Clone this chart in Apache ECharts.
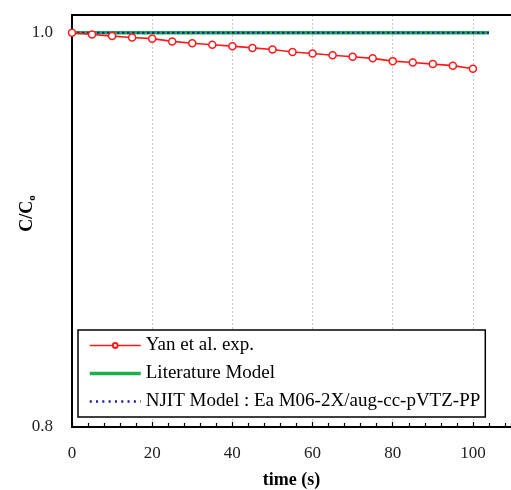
<!DOCTYPE html>
<html>
<head>
<meta charset="utf-8">
<script src="https://cdn.jsdelivr.net/npm/echarts@6/dist/echarts.min.js"></script>
<style>
  html, body { margin: 0; padding: 0; background: #fff; }
  #chart { width: 511px; height: 490px; }
</style>
</head>
<body>
<div id="chart"></div>
<script>
// 数据
const timeList = [0, 5, 10, 15, 20, 25, 30, 35, 40, 45, 50, 55, 60, 65, 70, 75, 80, 85, 90, 95, 100];
const yanList = [1.0, 0.9991, 0.9983, 0.9976, 0.9970, 0.9956, 0.9947, 0.9939, 0.9932, 0.9923, 0.9915,
    0.9902, 0.9895, 0.9886, 0.9878, 0.9870, 0.9856, 0.9849, 0.9841, 0.9833, 0.9817];
const modelTime = [0, 104];
const literatureList = [1.0, 1.0];
const njitList = [1.0, 1.0];
const seriesNames = ['Yan et al. exp.', 'Literature Model', 'NJIT Model : Ea M06-2X/aug-cc-pVTZ-PP'];
const xTicks = [0, 20, 40, 60, 80, 100];
const yTicks = [0.8, 1.0];

const dom = document.getElementById('chart');
const myChart = echarts.init(dom);
const serif = 'Liberation Serif';

function pairs(xs, ys) {
    return xs.map((x, i) => [x, ys[i]]);
}

const option = {
    backgroundColor: '#fff',
    animation: false,
    textStyle: { fontFamily: serif },
    grid: { left: 72, right: 0, top: 15, bottom: 63, containLabel: false, outerBoundsMode: 'none' },
    legend: {
        orient: 'vertical',
        left: 78,
        top: 330,
        padding: [6, 5, 6, 10],
        itemGap: 9,
        itemWidth: 51,
        itemHeight: 6,
        borderColor: '#000',
        borderWidth: 1.5,
        borderRadius: 0,
        backgroundColor: '#fff',
        textStyle: { fontFamily: serif, fontSize: 19, color: '#000' },
        data: [
            { name: seriesNames[0], lineStyle: { width: 1.3 } },
            { name: seriesNames[1], itemStyle: { opacity: 0 }, lineStyle: { width: 3.5 } },
            { name: seriesNames[2], itemStyle: { opacity: 0 }, lineStyle: { width: 2.5, type: [2, 4.3] } }
        ]
    },
    xAxis: [{
        type: 'value',
        min: 0,
        max: 109.5,
        interval: 20,
        name: 'time (s)',
        nameLocation: 'middle',
        nameGap: 44,
        nameMoveOverlap: false,
        nameTextStyle: { fontFamily: serif, fontSize: 18, fontWeight: 'bold', color: '#000' },
        axisLine: { show: true, lineStyle: { color: '#000', width: 2 } },
        axisTick: { show: true, inside: true, length: 5, lineStyle: { color: '#000', width: 1.2 } },
        minorTick: { show: true, splitNumber: 5, length: 4, lineStyle: { color: '#000', width: 1.2 } },
        axisLabel: {
            margin: 18,
            fontFamily: serif,
            fontSize: 17,
            color: '#222',
            formatter: v => xTicks.includes(v) ? String(v) : ''
        },
        splitLine: { show: true, lineStyle: { color: '#c8c8c8', type: [2, 2], width: 1 } }
    }, {
        type: 'value',
        position: 'top',
        min: 0,
        max: 109.5,
        axisLine: { show: true, lineStyle: { color: '#000', width: 2 } },
        axisTick: { show: false },
        axisLabel: { show: false },
        splitLine: { show: false }
    }],
    yAxis: {
        type: 'value',
        min: 0.8,
        max: 1.009,
        interval: 0.2,
        name: '{a|C/C}{b|o}',
        nameLocation: 'middle',
        nameRotate: 90,
        nameGap: 34,
        nameMoveOverlap: false,
        nameTextStyle: {
            rich: {
                a: { fontFamily: serif, fontSize: 18, fontWeight: 'bold', color: '#000', lineHeight: 22, padding: [0, 0, 0, 15] },
                b: { fontFamily: serif, fontSize: 11, fontWeight: 'bold', color: '#000', verticalAlign: 'bottom', lineHeight: 22, padding: [11, 0, 0, 0] }
            }
        },
        axisLine: { show: true, lineStyle: { color: '#000', width: 2 } },
        axisTick: { show: false },
        axisLabel: {
            margin: 19,
            fontFamily: serif,
            fontSize: 17,
            color: '#222',
            formatter: v => yTicks.some(t => Math.abs(t - v) < 1e-6) ? v.toFixed(1) : ''
        },
        splitLine: { show: false }
    },
    series: [{
        name: seriesNames[1],
        type: 'line',
        data: pairs(modelTime, literatureList),
        showSymbol: false,
        symbol: 'none',
        itemStyle: { color: '#1cb04c' },
        lineStyle: { color: '#1cb04c', width: 3.5 },
        z: 2
    }, {
        name: seriesNames[2],
        type: 'line',
        data: pairs(modelTime, njitList),
        showSymbol: false,
        symbol: 'none',
        itemStyle: { color: '#1a1a9e' },
        lineStyle: { color: '#1a1a9e', width: 2, type: [2.5, 2.5] },
        z: 3
    }, {
        name: seriesNames[0],
        type: 'line',
        data: pairs(timeList, yanList),
        symbol: 'circle',
        symbolSize: 7,
        itemStyle: { color: '#fff', borderColor: '#ff1a1a', borderWidth: 1.5 },
        lineStyle: { color: '#ff1a1a', width: 1.6 },
        z: 4
    }]
};

myChart.setOption(option);
</script>
</body>
</html>
